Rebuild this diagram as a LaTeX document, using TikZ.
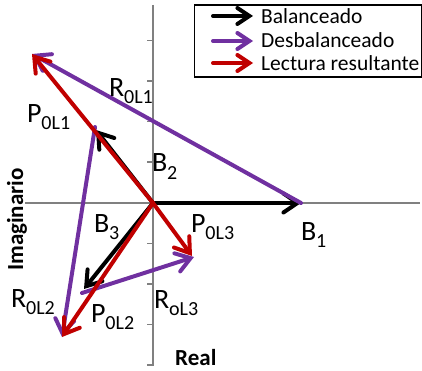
\documentclass[tikz,border=0pt]{standalone}
\usepackage{fontspec}
\setmainfont{Carlito}
\usetikzlibrary{arrows.meta}
\definecolor{vpurple}{HTML}{7030A0}
\definecolor{vred}{HTML}{C00000}
\definecolor{axisgray}{HTML}{808080}
\newcommand{\lab}[2]{{\fontsize{28}{28}\selectfont #1}{\fontsize{20}{20}\selectfont\raisebox{-7pt}{#2}}}
\tikzset{
  vec/.style={line width=4pt, -{Straight Barb[length=14pt,width=19pt,line cap=round]}, line cap=round},
  legvec/.style={line width=4pt, -{Straight Barb[length=12pt,width=16pt,line cap=round]}, line cap=round},
  axis/.style={axisgray, line width=1.2pt},
  tick/.style={axisgray, line width=1.2pt},
  lbl/.style={anchor=base west, inner sep=0pt, outer sep=0pt},
  legtxt/.style={anchor=base west, inner sep=0pt, font=\fontsize{21.5}{22}\selectfont},
  axlbl/.style={inner sep=0pt, font=\fontsize{23}{23}\selectfont\bfseries},
}
\begin{document}
\begin{tikzpicture}[x=1pt,y=-1pt]
\useasboundingbox (0,0) rectangle (422,371);
% axes
\coordinate (O) at (153,203);
\coordinate (xl) at (25,203);
\coordinate (xr) at (420,203);
\coordinate (yt) at (153,5);
\coordinate (yb) at (153,366);
\draw[axis] (xl) -- (xr);
\draw[axis] (yt) -- (yb);
\foreach \ty in {40.5,81,121.5,162,243.5,284,324.5,365}
  \draw[tick] (147,\ty) -- (153,\ty);
% tips
\coordinate (B1) at (301,203);
\coordinate (B2) at (96,130);
\coordinate (B3) at (84,289);
\coordinate (P1) at (32,54);
\coordinate (P2) at (62,337);
\coordinate (P3) at (192,256);
\coordinate (R2s) at (95,127);
\coordinate (R3s) at (82,293);
\coordinate (R3e) at (194,257);
% balanced
\draw[vec, black] (O) -- (B1);
\draw[vec, black] (O) -- (B2);
\draw[vec, black] (O) -- (B3);
% unbalanced
\draw[vec, vpurple] (B1) -- (P1);
\draw[vec, vpurple] (R2s) -- (P2);
\draw[vec, vpurple] (R3s) -- (R3e);
% resulting
\draw[vec, vred] (O) -- (P1);
\draw[vec, vred] (O) -- (P2);
\draw[vec, vred] (O) -- (P3);
% labels
\node[lbl] (lR1) at (109,97) {\lab{R}{0L1}};
\node[lbl] (lP1) at (27,123) {\lab{P}{0L1}};
\node[lbl] (lB2) at (152,172) {\lab{B}{2}};
\node[lbl] (lB3) at (94,232) {\lab{B}{3}};
\node[lbl] (lP3) at (191,232) {\lab{P}{0L3}};
\node[lbl] (lB1) at (301,240) {\lab{B}{1}};
\node[lbl] (lR2) at (11,307) {\lab{R}{0L2}};
\node[lbl] (lP2) at (91,322) {\lab{P}{0L2}};
\node[lbl] (lR3) at (154,308) {\lab{R}{oL3}};
\node[axlbl, anchor=base west] (lreal) at (175,365) {Real};
\node[axlbl, rotate=90, anchor=base] (limag) at (23,219.5) {Imaginario};
% legend
\node[draw=black, line width=1.6pt, minimum width=227pt, minimum height=72pt, inner sep=0pt, anchor=north west] (leg) at (193.5,4.5) {};
\coordinate (a1s) at (213,16);  \coordinate (a1e) at (253,16);
\coordinate (a2s) at (213,41);  \coordinate (a2e) at (253,41);
\coordinate (a3s) at (213,63);  \coordinate (a3e) at (253,63);
\draw[legvec, black] (a1s) -- (a1e);
\draw[legvec, vpurple] (a2s) -- (a2e);
\draw[legvec, vred] (a3s) -- (a3e);
\node[legtxt] (t1) at (261,24) {Balanceado};
\node[legtxt] (t2) at (261,48) {Desbalanceado};
\node[legtxt] (t3) at (261,71) {Lectura resultante};
\end{tikzpicture}
\end{document}
